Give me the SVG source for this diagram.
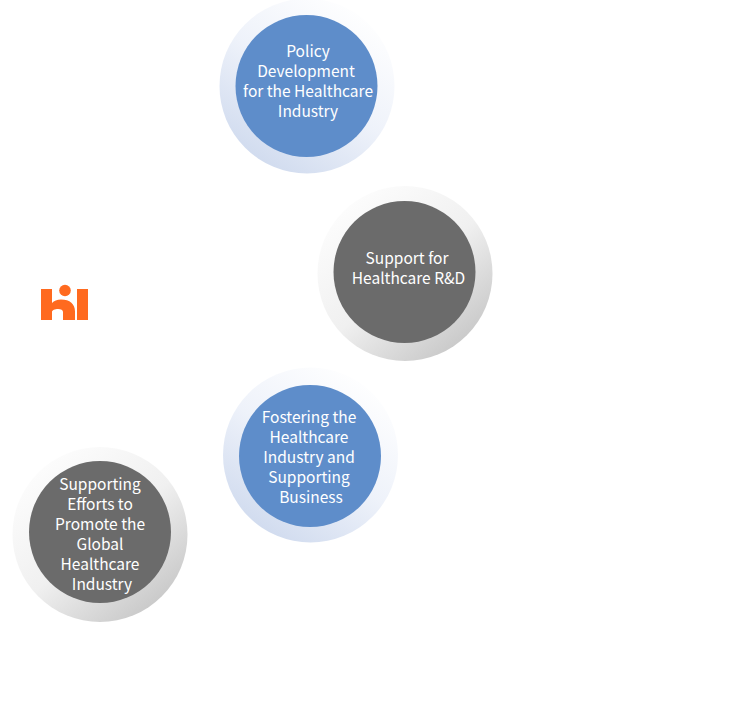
<svg xmlns="http://www.w3.org/2000/svg" width="730" height="720" viewBox="0 0 730 720">
<defs>
<linearGradient id="b" x1="0.2" y1="0.95" x2="0.8" y2="0.05"><stop offset="0" stop-color="#cfdaee"/><stop offset="0.5" stop-color="#eef2fa"/><stop offset="1" stop-color="#ffffff"/></linearGradient>
<linearGradient id="g" x1="0.85" y1="0.9" x2="0.2" y2="0.1"><stop offset="0" stop-color="#c8c8c8"/><stop offset="0.5" stop-color="#f0f0f0"/><stop offset="1" stop-color="#fcfcfc"/></linearGradient>
</defs>
<style>
.bi{fill:#5e8dca}.gi{fill:#6b6b6b}
text{font-family:"Noto Sans CJK KR","Noto Sans",sans-serif;font-size:15.500px;font-weight:400;fill:#fff;text-anchor:middle}
</style>
<rect width="730" height="720" fill="#fff"/>
<g id="logo" fill="#ff6a1f"><path d="M41 289h11v14c2-2 5-3.500 9-3.500c9 0 14 4.500 14 12v8.500h-12v-8c0-2-2-3-5-3s-6 1-6 3v8h-11z"/><rect x="77" y="289" width="11" height="31"/><circle cx="65" cy="290.500" r="5.800"/></g>
<g id="node-policy"><circle cx="307" cy="86" r="87.500" fill="url(#b)"/><circle class="bi" cx="306.500" cy="86" r="71"/><text x="308" y="57">Policy</text><text x="306" y="77">Development</text><text x="308" y="97">for the Healthcare</text><text x="308" y="117">Industry</text></g>
<g id="node-rd"><circle cx="405" cy="273.500" r="87.500" fill="url(#g)"/><circle class="gi" cx="404.500" cy="272" r="71"/><text x="407" y="264">Support for</text><text x="408.500" y="284">Healthcare R&amp;D</text></g>
<g id="node-fostering"><circle cx="310.500" cy="455" r="87.500" fill="url(#b)"/><circle class="bi" cx="310" cy="456" r="71"/><text x="309" y="423">Fostering the</text><text x="309" y="443">Healthcare</text><text x="309" y="463">Industry and</text><text x="309" y="483">Supporting</text><text x="311" y="503">Business</text></g>
<g id="node-global"><circle cx="100" cy="534.500" r="87.500" fill="url(#g)"/><circle class="gi" cx="100" cy="532" r="71"/><text x="100" y="490">Supporting</text><text x="100" y="510">Efforts to</text><text x="100" y="530">Promote the</text><text x="100" y="550">Global</text><text x="100" y="570">Healthcare</text><text x="102" y="590">Industry</text></g>
<g id="connectors"/>
</svg>
